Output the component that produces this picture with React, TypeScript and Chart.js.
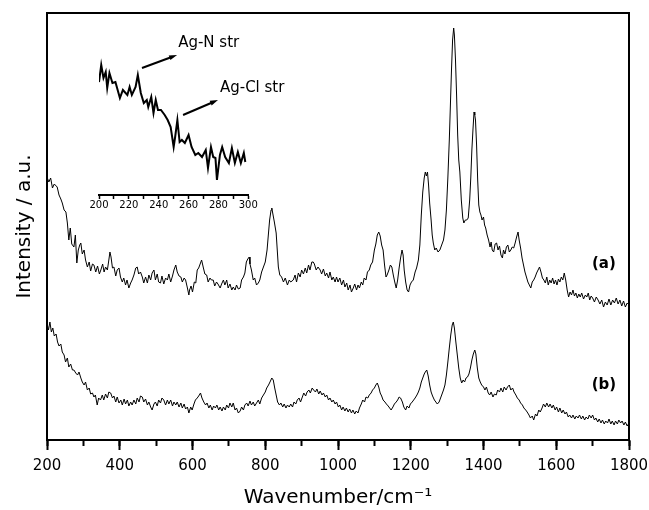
import { useEffect, useRef } from 'react';
import { Chart, registerables } from 'chart.js';

Chart.register(...registerables);

const FONT = '"DejaVu Sans", "Liberation Sans", sans-serif';

// Raman spectrum (a): [wavenumber, intensity]
const spectrumA: [number, number][] = [
  [200, 263], [205, 258], [210, 262], [215, 252], [220, 256], [228, 253], [233, 245], [238, 241],
  [242, 237], [247, 230], [252, 228], [256, 217], [260, 200], [264, 212], [268, 196], [274, 193],
  [278, 205], [282, 177], [286, 190], [290, 195], [293, 197], [297, 186], [302, 190], [306, 180],
  [311, 173], [316, 178], [320, 169], [325, 176], [329, 175], [334, 168], [339, 174], [344, 166],
  [348, 170], [353, 176], [357, 168], [361, 173], [366, 170], [370, 180], [373, 188], [376, 183],
  [380, 172], [384, 173], [389, 164], [393, 170], [398, 172], [402, 163], [407, 158], [411, 162],
  [416, 155], [420, 160], [425, 152], [430, 157], [434, 160], [439, 165], [444, 172], [448, 173],
  [452, 166], [457, 168], [462, 163], [466, 157], [471, 163], [476, 157], [480, 165], [485, 160],
  [489, 167], [494, 170], [498, 160], [503, 166], [507, 158], [512, 157], [516, 164], [521, 156],
  [526, 162], [531, 160], [535, 166], [540, 158], [545, 164], [549, 170], [554, 175], [558, 168],
  [563, 164], [568, 163], [572, 158], [577, 162], [581, 160], [586, 152], [590, 145], [592, 150],
  [596, 154], [600, 148], [605, 158], [609, 157], [613, 170], [617, 172], [622, 177], [625, 180],
  [630, 172], [634, 166], [639, 165], [643, 158], [648, 162], [652, 160], [657, 160], [661, 154],
  [666, 158], [670, 156], [676, 152], [680, 156], [685, 160], [689, 155], [694, 160], [698, 152],
  [703, 156], [708, 150], [712, 153], [717, 150], [721, 155], [726, 151], [731, 152], [735, 160],
  [740, 163], [744, 167], [748, 178], [752, 181], [756, 183], [758, 176], [762, 170], [767, 160],
  [771, 162], [776, 155], [781, 157], [785, 160], [790, 168], [795, 173], [800, 178], [805, 190],
  [808, 203], [812, 220], [816, 230], [818, 232], [821, 226], [825, 218], [830, 207], [833, 190],
  [836, 173], [840, 165], [845, 163], [850, 158], [855, 162], [861, 155], [866, 160], [870, 158],
  [877, 160], [882, 165], [886, 158], [891, 167], [896, 163], [900, 170], [905, 166], [910, 172],
  [914, 167], [919, 175], [923, 170], [928, 178], [932, 178], [935, 176], [940, 170], [945, 173],
  [951, 170], [955, 166], [960, 171], [965, 164], [969, 167], [974, 162], [978, 168], [983, 160],
  [987, 163], [992, 158], [996, 163], [1000, 158], [1005, 162], [1010, 155], [1015, 160], [1019, 153],
  [1024, 157], [1028, 150], [1033, 155], [1037, 148], [1042, 152], [1046, 156], [1051, 150], [1055, 155],
  [1059, 152], [1064, 158], [1068, 155], [1072, 162], [1077, 160], [1081, 168], [1086, 170], [1090, 175],
  [1095, 178], [1100, 190], [1104, 196], [1108, 205], [1112, 208], [1116, 204], [1120, 195], [1124, 190],
  [1128, 175], [1132, 163], [1135, 165], [1140, 170], [1144, 175], [1148, 173], [1152, 165], [1156, 158],
  [1160, 152], [1164, 160], [1168, 172], [1172, 182], [1176, 190], [1179, 185], [1182, 170], [1186, 158],
  [1190, 150], [1194, 148], [1198, 155], [1202, 158], [1207, 160], [1212, 168], [1216, 172], [1221, 180],
  [1225, 195], [1229, 225], [1233, 248], [1237, 262], [1240, 268], [1243, 264], [1246, 268], [1249, 255],
  [1252, 237], [1256, 220], [1259, 205], [1262, 197], [1266, 190], [1270, 192], [1275, 188], [1280, 190],
  [1285, 195], [1290, 200], [1294, 210], [1298, 230], [1302, 262], [1306, 300], [1309, 335], [1312, 370],
  [1315, 400], [1318, 412], [1320, 405], [1323, 380], [1326, 345], [1329, 305], [1332, 280], [1335, 268],
  [1339, 240], [1343, 222], [1346, 217], [1350, 220], [1354, 220], [1358, 222], [1362, 240], [1365, 262],
  [1368, 290], [1371, 310], [1374, 328], [1376, 325], [1378, 320], [1381, 295], [1384, 260], [1387, 235],
  [1390, 228], [1393, 225], [1396, 220], [1400, 223], [1403, 215], [1406, 212], [1410, 205], [1414, 200],
  [1418, 193], [1421, 198], [1424, 190], [1428, 188], [1432, 196], [1436, 197], [1440, 190], [1444, 194],
  [1448, 185], [1452, 182], [1455, 190], [1459, 186], [1463, 193], [1467, 195], [1471, 188], [1475, 190],
  [1479, 193], [1483, 192], [1487, 197], [1491, 203], [1495, 208], [1498, 200], [1502, 192], [1506, 182],
  [1510, 175], [1514, 168], [1518, 163], [1522, 158], [1526, 155], [1530, 152], [1534, 158], [1538, 160],
  [1542, 163], [1546, 167], [1550, 170], [1554, 173], [1558, 168], [1562, 162], [1566, 160], [1570, 157],
  [1574, 163], [1578, 155], [1582, 160], [1586, 157], [1590, 162], [1594, 156], [1598, 160], [1602, 155],
  [1606, 161], [1610, 158], [1614, 163], [1618, 160], [1622, 167], [1626, 160], [1630, 150], [1634, 143],
  [1638, 148], [1642, 145], [1646, 150], [1650, 144], [1654, 147], [1658, 142], [1662, 146], [1666, 143],
  [1670, 147], [1675, 141], [1680, 145], [1684, 143], [1688, 147], [1692, 140], [1696, 144], [1700, 142],
  [1705, 138], [1710, 143], [1715, 140], [1720, 136], [1725, 140], [1730, 133], [1735, 138], [1740, 135],
  [1745, 141], [1750, 135], [1755, 140], [1760, 137], [1765, 142], [1770, 136], [1775, 140], [1780, 134],
  [1785, 139], [1790, 133], [1795, 137], [1800, 135],
];

// Raman spectrum (b): [wavenumber, intensity]
const spectrumB: [number, number][] = [
  [200, 117], [204, 110], [208, 118], [212, 108], [216, 112], [220, 104], [225, 106], [229, 98],
  [233, 94], [238, 96], [242, 88], [247, 85], [251, 78], [256, 82], [260, 73], [265, 76],
  [270, 70], [274, 70], [279, 67], [284, 65], [288, 68], [293, 62], [297, 58], [302, 55],
  [306, 58], [311, 50], [316, 52], [320, 46], [325, 47], [329, 43], [333, 45], [338, 35],
  [342, 42], [347, 40], [352, 45], [356, 40], [361, 46], [366, 42], [370, 48], [375, 47],
  [380, 42], [384, 44], [389, 38], [393, 43], [398, 37], [403, 40], [407, 35], [412, 41],
  [416, 36], [421, 40], [425, 34], [430, 38], [434, 35], [439, 40], [444, 36], [448, 42],
  [453, 38], [457, 44], [462, 43], [466, 38], [471, 41], [476, 35], [480, 38], [485, 33],
  [489, 30], [494, 36], [498, 38], [503, 34], [507, 40], [512, 37], [516, 42], [521, 40],
  [526, 35], [531, 40], [535, 36], [540, 40], [545, 34], [549, 38], [554, 35], [558, 38],
  [563, 33], [568, 37], [572, 32], [577, 36], [581, 31], [586, 33], [590, 27], [595, 33],
  [599, 30], [604, 36], [608, 40], [613, 42], [617, 44], [622, 47], [626, 42], [631, 38],
  [636, 35], [640, 37], [645, 32], [649, 35], [654, 30], [658, 34], [663, 32], [667, 35],
  [672, 30], [676, 33], [681, 29], [685, 33], [690, 30], [694, 35], [699, 32], [703, 37],
  [708, 33], [712, 37], [717, 30], [721, 32], [726, 27], [731, 29], [735, 33], [740, 30],
  [744, 35], [749, 37], [753, 34], [758, 39], [762, 35], [767, 38], [771, 34], [776, 37],
  [781, 40], [785, 36], [790, 42], [795, 45], [800, 48], [804, 52], [809, 55], [813, 58],
  [818, 62], [822, 60], [826, 52], [830, 45], [834, 38], [839, 35], [843, 37], [848, 33],
  [852, 36], [857, 32], [861, 35], [866, 33], [870, 36], [875, 33], [879, 38], [884, 36],
  [888, 40], [893, 42], [897, 38], [902, 43], [906, 47], [911, 44], [915, 48], [920, 50],
  [924, 47], [929, 52], [933, 50], [938, 48], [942, 51], [947, 46], [951, 49], [956, 45],
  [960, 47], [965, 43], [969, 45], [974, 40], [978, 42], [983, 38], [987, 40], [992, 36],
  [996, 38], [1001, 33], [1005, 35], [1010, 30], [1014, 33], [1019, 29], [1023, 32], [1028, 28],
  [1032, 31], [1037, 27], [1041, 30], [1046, 26], [1050, 29], [1055, 27], [1059, 32], [1064, 36],
  [1068, 40], [1073, 38], [1077, 43], [1082, 42], [1086, 45], [1091, 47], [1095, 50], [1100, 52],
  [1104, 55], [1108, 57], [1112, 53], [1116, 47], [1120, 44], [1124, 40], [1129, 38], [1133, 36],
  [1138, 34], [1142, 32], [1146, 30], [1151, 33], [1155, 36], [1160, 38], [1164, 40], [1168, 43],
  [1172, 42], [1177, 38], [1181, 33], [1186, 30], [1190, 34], [1195, 32], [1199, 36], [1204, 38],
  [1208, 40], [1212, 42], [1217, 45], [1221, 48], [1225, 52], [1229, 58], [1233, 62], [1237, 66],
  [1240, 68], [1244, 70], [1248, 64], [1252, 55], [1256, 48], [1260, 44], [1265, 40], [1269, 38],
  [1273, 36], [1278, 38], [1282, 42], [1286, 46], [1290, 50], [1294, 55], [1298, 65], [1302, 78],
  [1306, 92], [1310, 105], [1314, 115], [1317, 118], [1320, 112], [1324, 98], [1328, 85], [1332, 72],
  [1336, 62], [1340, 57], [1344, 60], [1348, 58], [1352, 62], [1356, 63], [1360, 66], [1364, 72],
  [1368, 80], [1372, 86], [1376, 90], [1379, 86], [1383, 72], [1387, 62], [1391, 58], [1395, 55],
  [1400, 53], [1404, 50], [1408, 53], [1413, 47], [1417, 45], [1421, 48], [1426, 43], [1430, 46],
  [1435, 45], [1439, 50], [1444, 48], [1448, 52], [1453, 48], [1457, 53], [1462, 50], [1466, 53],
  [1471, 55], [1475, 50], [1480, 52], [1484, 48], [1489, 45], [1493, 42], [1498, 40], [1502, 37],
  [1507, 35], [1511, 32], [1516, 30], [1520, 28], [1525, 25], [1529, 22], [1534, 24], [1538, 20],
  [1543, 26], [1547, 24], [1552, 30], [1556, 28], [1561, 32], [1565, 36], [1570, 33], [1574, 37],
  [1579, 33], [1583, 36], [1588, 32], [1592, 35], [1597, 30], [1601, 33], [1606, 28], [1610, 32],
  [1615, 27], [1619, 30], [1624, 26], [1628, 28], [1633, 23], [1637, 25], [1642, 22], [1646, 25],
  [1651, 21], [1655, 24], [1660, 22], [1664, 25], [1669, 21], [1673, 24], [1678, 20], [1682, 23],
  [1687, 21], [1691, 25], [1696, 22], [1700, 25], [1705, 20], [1709, 22], [1714, 18], [1718, 21],
  [1723, 17], [1727, 20], [1732, 16], [1736, 19], [1741, 17], [1745, 21], [1750, 16], [1754, 19],
  [1759, 15], [1763, 19], [1768, 16], [1772, 20], [1777, 17], [1781, 19], [1786, 15], [1790, 18],
  [1795, 14], [1800, 17],
];

// Inset: low-wavenumber region of (a), 200-300 cm-1
const insetTrace: [number, number][] = [
  [200, 113], [201.5, 130], [203, 117], [204.5, 123], [205.5, 107], [207, 122], [209, 112], [211, 113],
  [214, 97], [216, 105], [219, 100], [220.5, 108], [222, 100], [224.5, 108], [226, 120], [228, 102],
  [230, 92], [232, 95], [233, 88], [235, 98], [236.5, 82], [238, 95], [239.5, 85], [241.5, 85],
  [244, 80], [246, 75], [248, 68], [250, 48], [251, 58], [252.5, 75], [254, 53], [255.5, 55],
  [257.5, 52], [260, 60], [262, 48], [264.5, 40], [266.5, 42], [269, 38], [271.5, 45], [273, 27],
  [275, 48], [276.5, 38], [278, 37], [279, 15], [281, 40], [282.5, 48], [284.5, 38], [287, 32],
  [289, 47], [291, 32], [293, 43], [295, 32], [297, 42], [298, 33],
];

const traceLabels = [
  { text: '(a)', x: 1731, y: 176 },
  { text: '(b)', x: 1731, y: 55 },
];

const insetNotes = [
  { text: 'Ag-N str', tx: 253, ty: 152, from: [228.8, 127], to: [252.3, 140] },
  { text: 'Ag-Cl str', tx: 281, ty: 107, from: [256.3, 80], to: [279.7, 95] },
];

const toXY = (pts: [number, number][]) => pts.map(([x, y]) => ({ x, y }));

const frame = { display: true, color: '#000', width: 2 };

const traceLabelPlugin = {
  id: 'traceLabels',
  afterDatasetsDraw(chart: any) {
    const { ctx, scales } = chart;
    ctx.save();
    ctx.font = `bold 15px ${FONT}`;
    ctx.fillStyle = '#000';
    ctx.textAlign = 'center';
    ctx.textBaseline = 'middle';
    traceLabels.forEach((l) => {
      ctx.fillText(l.text, scales.x.getPixelForValue(l.x), scales.y.getPixelForValue(l.y));
    });
    ctx.restore();
  },
};

const insetNotePlugin = {
  id: 'insetNotes',
  afterDatasetsDraw(chart: any) {
    const { ctx, scales } = chart;
    const px = (v: number) => scales.x.getPixelForValue(v);
    const py = (v: number) => scales.y.getPixelForValue(v);
    ctx.save();
    ctx.strokeStyle = '#000';
    ctx.fillStyle = '#000';
    ctx.lineWidth = 2;
    insetNotes.forEach((n) => {
      const x0 = px(n.from[0]);
      const y0 = py(n.from[1]);
      const x1 = px(n.to[0]);
      const y1 = py(n.to[1]);
      const ang = Math.atan2(y1 - y0, x1 - x0);
      ctx.beginPath();
      ctx.moveTo(x0, y0);
      ctx.lineTo(x1 - 5 * Math.cos(ang), y1 - 5 * Math.sin(ang));
      ctx.stroke();
      ctx.beginPath();
      ctx.moveTo(x1, y1);
      ctx.lineTo(x1 - 8 * Math.cos(ang) + 2.5 * Math.sin(ang), y1 - 8 * Math.sin(ang) - 2.5 * Math.cos(ang));
      ctx.lineTo(x1 - 8 * Math.cos(ang) - 2.5 * Math.sin(ang), y1 - 8 * Math.sin(ang) + 2.5 * Math.cos(ang));
      ctx.closePath();
      ctx.fill();
      ctx.font = `15px ${FONT}`;
      ctx.textAlign = 'left';
      ctx.textBaseline = 'middle';
      ctx.fillText(n.text, px(n.tx), py(n.ty));
    });
    ctx.restore();
  },
};

export default function App() {
  const mainRef = useRef<HTMLCanvasElement>(null);
  const insetRef = useRef<HTMLCanvasElement>(null);

  useEffect(() => {
    if (!mainRef.current || !insetRef.current) return;

    const main = new Chart(mainRef.current, {
      type: 'line',
      data: {
        datasets: [
          { data: toXY(spectrumA), borderColor: '#000', borderWidth: 1, pointRadius: 0, tension: 0 },
          { data: toXY(spectrumB), borderColor: '#000', borderWidth: 1, pointRadius: 0, tension: 0 },
        ],
      },
      options: {
        responsive: false,
        animation: false,
        layout: { padding: { left: 0, top: 13, right: 20, bottom: 0 } },
        plugins: { legend: { display: false }, tooltip: { enabled: false } },
        scales: {
          x: {
            type: 'linear',
            min: 200,
            max: 1800,
            weight: 1,
            border: frame,
            grid: { drawOnChartArea: false, tickLength: 10, tickWidth: 2, tickColor: '#000' },
            ticks: {
              stepSize: 200,
              color: '#000',
              padding: 7,
              maxRotation: 0,
              autoSkip: false,
              font: { family: FONT, size: 15 },
              callback: (v: any) => String(v),
            },
            title: {
              display: true,
              text: 'Wavenumber/cm\u207B\u00B9',
              color: '#000',
              font: { family: FONT, size: 20 },
              padding: { top: 0, bottom: 0 },
            },
            afterFit: (s: any) => {
              s.height = 70;
              s.paddingLeft = 0;
              s.paddingRight = 0;
            },
          },
          xMinor: {
            type: 'linear',
            position: 'bottom',
            min: 200,
            max: 1800,
            weight: 0,
            border: { display: false },
            grid: { drawOnChartArea: false, tickLength: 6, tickWidth: 2, tickColor: '#000' },
            ticks: { stepSize: 100, display: false },
            afterFit: (s: any) => {
              s.height = 0;
              s.paddingLeft = 0;
              s.paddingRight = 0;
            },
          },
          xTop: {
            type: 'linear',
            position: 'top',
            min: 200,
            max: 1800,
            border: frame,
            grid: { display: false },
            ticks: { display: false },
            afterFit: (s: any) => { s.height = 0; },
          },
          y: {
            type: 'linear',
            min: 0,
            max: 427,
            border: frame,
            grid: { display: false },
            ticks: { display: false },
            title: {
              display: true,
              text: 'Intensity / a.u.',
              color: '#000',
              font: { family: FONT, size: 20 },
              padding: { top: 13, bottom: 0 },
            },
            afterFit: (s: any) => { s.width = 47; },
          },
          yRight: {
            type: 'linear',
            position: 'right',
            min: 0,
            max: 427,
            border: frame,
            grid: { display: false },
            ticks: { display: false },
            afterFit: (s: any) => { s.width = 0; },
          },
        },
      },
      plugins: [traceLabelPlugin],
    } as any);

    const inset = new Chart(insetRef.current, {
      type: 'line',
      data: {
        datasets: [
          { data: toXY(insetTrace), borderColor: '#000', borderWidth: 2, pointRadius: 0, tension: 0 },
        ],
      },
      options: {
        responsive: false,
        animation: false,
        layout: { padding: { left: 39, top: 10, right: 61.7, bottom: 0 } },
        plugins: { legend: { display: false }, tooltip: { enabled: false } },
        scales: {
          x: {
            type: 'linear',
            min: 200,
            max: 300,
            border: frame,
            grid: { drawOnChartArea: false, tickLength: 4, tickWidth: 1.5, tickColor: '#000' },
            ticks: {
              stepSize: 10,
              color: '#000',
              padding: 0,
              maxRotation: 0,
              autoSkip: false,
              font: { family: FONT, size: 10 },
              callback: (v: any) => (Number(v) % 20 === 0 ? String(v) : ''),
            },
            afterFit: (s: any) => { s.height = 25; },
          },
          y: { type: 'linear', min: 0, max: 155, display: false },
        },
      },
      plugins: [insetNotePlugin],
    } as any);

    return () => {
      main.destroy();
      inset.destroy();
    };
  }, []);

  return (
    <div style={{ position: 'absolute', left: 0, top: 0, width: 649, height: 510, background: '#fff' }}>
      <canvas ref={mainRef} width={649} height={510} style={{ position: 'absolute', left: 0, top: 0 }} />
      <canvas
        ref={insetRef}
        width={250}
        height={190}
        style={{ position: 'absolute', left: 60, top: 30, pointerEvents: 'none' }}
      />
    </div>
  );
}
